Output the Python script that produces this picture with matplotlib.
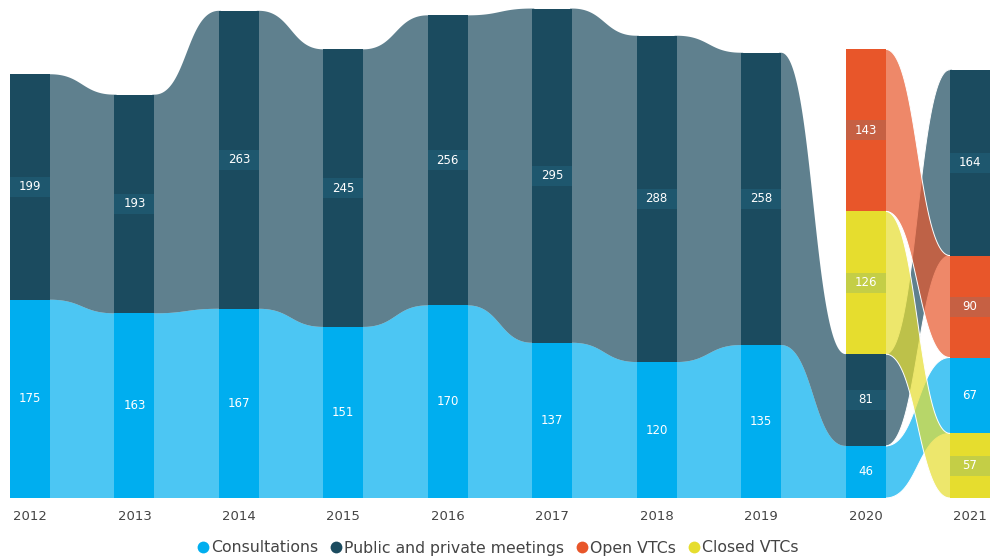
import numpy as np
import matplotlib.pyplot as plt
from matplotlib.patches import Rectangle, Polygon
from matplotlib.lines import Line2D

plt.rcParams['font.family'] = ['DejaVu Sans']

years = ['2012', '2013', '2014', '2015', '2016', '2017', '2018', '2019', '2020', '2021']
consultations = [175, 163, 167, 151, 170, 137, 120, 135, 46, 67]
meetings = [199, 193, 263, 245, 256, 295, 288, 258, 81, 164]
open_vtcs = [None, None, None, None, None, None, None, None, 143, 90]
closed_vtcs = [None, None, None, None, None, None, None, None, 126, 57]

series_names = ['Consultations', 'Public and private meetings', 'Open VTCs', 'Closed VTCs']
series_vals = [consultations, meetings, open_vtcs, closed_vtcs]
bar_colors = ['#00AEEF', '#1B4B5F', '#E8562A', '#E6DD2E']

n = len(years)
bw = 40 / 104.44

fig = plt.figure(figsize=(9.9, 5.6), dpi=100)
ax = fig.add_axes([0, 62 / 560, 1, 498 / 560])
ax.set_xlim(-30 / 104.44, 960 / 104.44)
ax.set_ylim(0, 498 / 1.133)
ax.axis('off')

# stacking: ascending values from bottom
pos = []
for i in range(n):
    present = [(series_vals[s][i], s) for s in range(len(series_vals)) if series_vals[s][i] is not None]
    present.sort()
    d = {}
    b = 0
    for v, s in present:
        d[s] = (b, b + v)
        b += v
    pos.append(d)


def bez(x0, y0, x1, y1, k=0.5, m=80):
    t = np.linspace(0, 1, m)
    dx = x1 - x0
    px = [x0, x0 + k * dx, x1 - k * dx, x1]
    py = [y0, y0, y1, y1]
    bx = ((1 - t) ** 3) * px[0] + 3 * ((1 - t) ** 2) * t * px[1] + 3 * (1 - t) * t ** 2 * px[2] + t ** 3 * px[3]
    by = ((1 - t) ** 3) * py[0] + 3 * ((1 - t) ** 2) * t * py[1] + 3 * (1 - t) * t ** 2 * py[2] + t ** 3 * py[3]
    return bx, by


ext = 0.02
# ribbons
for s in range(len(series_vals)):
    for i in range(n - 1):
        if s in pos[i] and s in pos[i + 1]:
            x0 = i + bw / 2
            x1 = i + 1 - bw / 2
            b0, t0 = pos[i][s]
            b1, t1 = pos[i + 1][s]
            tx, ty = bez(x0, t0, x1, t1)
            bx, by = bez(x0, b0, x1, b1)
            top = np.column_stack([np.r_[x0 - ext, tx, x1 + ext], np.r_[t0, ty, t1]])
            bot = np.column_stack([np.r_[x0 - ext, bx, x1 + ext], np.r_[b0, by, b1]])
            verts = np.vstack([top, bot[::-1]])
            z = 1 + s * 0.1
            ax.add_patch(Polygon(verts, closed=True, facecolor=bar_colors[s], alpha=0.7,
                                 edgecolor='none', zorder=z))
            if i == n - 2:
                ax.plot(tx, ty, color='white', lw=0.7, zorder=z + 0.05)
                ax.plot(bx, by, color='white', lw=0.7, zorder=z + 0.05)

# bars and labels
box_h = 20 / 1.133
for i in range(n):
    for s, (b, t) in pos[i].items():
        ax.add_patch(Rectangle((i - bw / 2, b), bw, t - b, facecolor=bar_colors[s],
                               edgecolor='none', zorder=3))
        mid = (b + t) / 2
        if s != 0:
            ax.add_patch(Rectangle((i - bw / 2, mid - box_h / 2), bw, box_h, facecolor='#2D8FB5',
                                   alpha=0.18, edgecolor='none', zorder=4))
        ax.text(i, mid, str(series_vals[s][i]), color='white', ha='center', va='center',
                fontsize=8.5, zorder=5)

# year labels
for i, y in enumerate(years):
    ax.text(i, -19 / 498, y, transform=ax.get_xaxis_transform(), ha='center', va='center',
            fontsize=9.5, color='#444444')

handles = [Line2D([], [], marker='o', linestyle='none', markersize=8.5, color=c,
                  markeredgecolor='none') for c in bar_colors]
fig.legend(handles, series_names, loc='center', bbox_to_anchor=(0.502, 1 - 548 / 560), ncol=4,
           frameon=False, handletextpad=0.05, columnspacing=0.7, handlelength=0.9,
           fontsize=11.3, labelcolor='#444444')

fig.savefig('out.png', dpi=100)
